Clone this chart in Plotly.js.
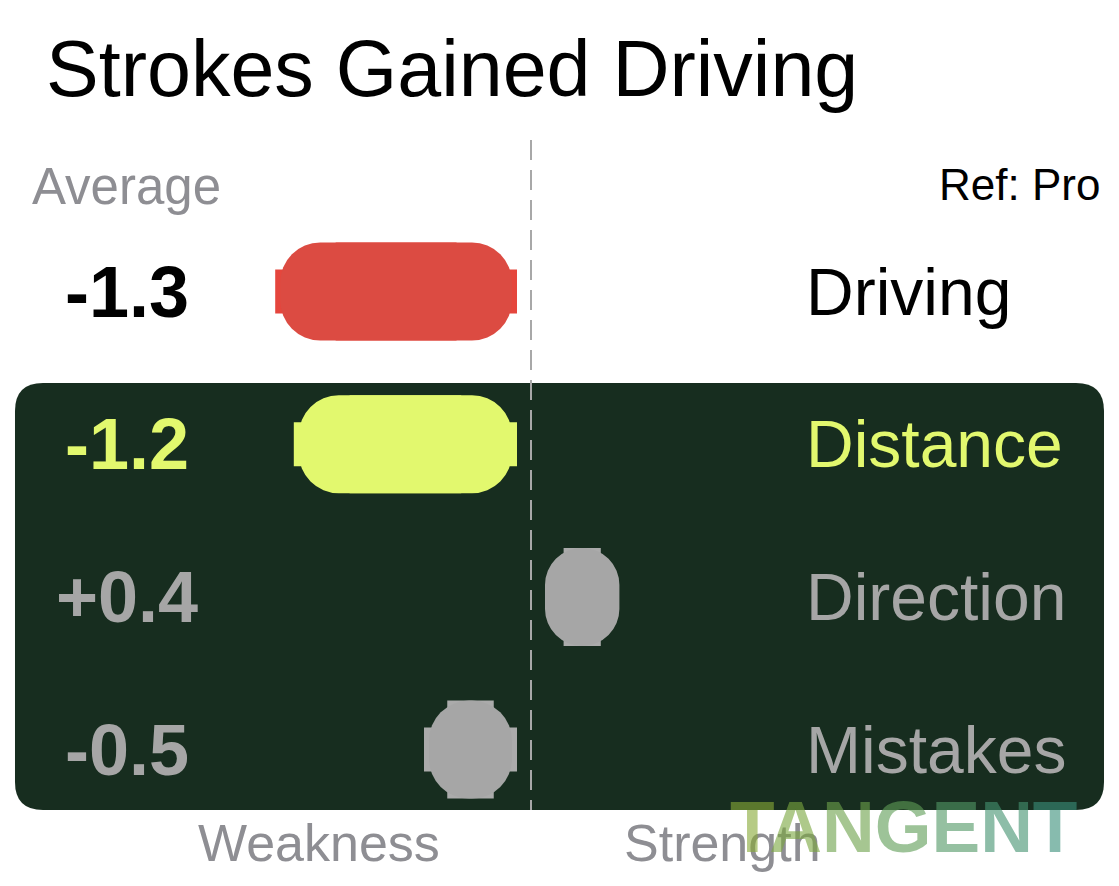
<!DOCTYPE html>
<html>
<head>
<meta charset="utf-8">
<script src="https://cdn.plot.ly/plotly-3.0.1.min.js"></script>
<style>
html,body{margin:0;padding:0;background:#fff;}
#chart{width:1119px;height:886px;}
</style>
</head>
<body>
<div id="chart"></div>
<script>
// ---- data ----
const categories = ['Driving', 'Distance', 'Direction', 'Mistakes'];
const values = [-1.3, -1.2, 0.4, -0.5];
const valueLabels = ['-1.3', '-1.2', '+0.4', '-0.5'];
const barColors = ['#DC4B42', '#E2F86E', '#A6A6A6', '#A6A6A6'];
const tabColors = ['#E5463D', '#E2F86E', '#ABABAB', '#ABABAB'];
const textColors = ['#000000', '#E2F86E', '#A6A6A6', '#A6A6A6'];
const title = 'Strokes Gained Driving';
const headerLeft = 'Average';
const headerRight = 'Ref: Pro';
const footLeft = 'Weakness';
const footRight = 'Strength';
const watermark = 'TANGENT';
const watermarkColors = ['rgba(135,170,55,0.78)', 'rgba(122,166,62,0.78)', 'rgba(108,161,74,0.78)',
  'rgba(94,156,86,0.78)', 'rgba(80,152,100,0.78)', 'rgba(68,147,112,0.78)', 'rgba(58,143,122,0.78)'];

// ---- geometry helpers (styling only) ----
const W = 1119, H = 886;
const pxPerUnitX = 186, zeroPx = 531;
const rowPx0 = 291.5, pxPerRow = 152.7;
const xRange = [-zeroPx / pxPerUnitX, (W - zeroPx) / pxPerUnitX];
const yRange = [(H - rowPx0) / pxPerRow, -rowPx0 / pxPerRow];
const gap = 14 / pxPerUnitX;
const pillPx = 98;
const pillW = pillPx / pxPerRow;
const tabW = 44 / pxPerRow;

const rows = categories.map((c, i) => i);
const starts = values.map(v => (v < 0 ? -gap : gap));
const lows = values.map((v, i) => Math.min(starts[i], starts[i] + v));
const lens = values.map(v => Math.abs(v));
const mids = values.map((v, i) => starts[i] + v / 2);
const longBar = lens.map(l => l * pxPerUnitX > 80);
const insets = longBar.map(b => (b ? 5 / pxPerUnitX : 0));
const hTabLens = lens.map((l, i) => (longBar[i] ? l : l * 0.5));

const common = {type: 'bar', orientation: 'h', y: rows, hoverinfo: 'skip', showlegend: false};
const traces = [
  // flat side tabs
  Object.assign({}, common, {base: mids.map((m, i) => m - hTabLens[i] / 2), x: hTabLens, width: tabW,
    marker: {color: tabColors, line: {width: 0}}}),
  // flat top/bottom tabs
  Object.assign({}, common, {base: lows.map((l, i) => l + lens[i] / 4), x: lens.map(l => l / 2), width: pillW,
    marker: {color: tabColors, line: {width: 0}}}),
  // rounded pill
  Object.assign({}, common, {base: lows.map((l, i) => l + insets[i]), x: lens.map((l, i) => l - 2 * insets[i]), width: pillW,
    marker: {color: barColors, cornerradius: 40, line: {width: 0}}})
];

const font = 'Liberation Sans, Arial, Helvetica, sans-serif';
const px = v => v / W;
const py = v => 1 - v / H;

const annotations = [];
categories.forEach((c, i) => {
  annotations.push({x: (127 - zeroPx) / pxPerUnitX, y: i, xref: 'x', yref: 'y', text: valueLabels[i],
    showarrow: false, xanchor: 'center', yanchor: 'middle',
    font: {family: font, size: 72, color: textColors[i], weight: 700}});
  annotations.push({x: (804 - zeroPx) / pxPerUnitX, y: i, xref: 'x', yref: 'y', text: c,
    showarrow: false, xanchor: 'left', yanchor: 'middle',
    font: {family: font, size: 66, color: textColors[i]}});
});
annotations.push({x: px(30), y: py(186), xref: 'paper', yref: 'paper', text: headerLeft, showarrow: false,
  xanchor: 'left', yanchor: 'middle', font: {family: font, size: 51, color: '#8E8E93'}});
annotations.push({x: px(1102), y: py(184), xref: 'paper', yref: 'paper', text: headerRight, showarrow: false,
  xanchor: 'right', yanchor: 'middle', font: {family: font, size: 44, color: '#000000'}});
annotations.push({x: px(196), y: py(843), xref: 'paper', yref: 'paper', text: footLeft, showarrow: false,
  xanchor: 'left', yanchor: 'middle', font: {family: font, size: 52, color: '#8E8E93'}});
annotations.push({x: px(622), y: py(843), xref: 'paper', yref: 'paper', text: footRight, showarrow: false,
  xanchor: 'left', yanchor: 'middle', font: {family: font, size: 52, color: '#8E8E93'}});
annotations.push({x: px(728), y: py(826), xref: 'paper', yref: 'paper',
  text: watermark.split('').map((ch, i) => '<span style="color:' + watermarkColors[i] + '">' + ch + '</span>').join(''),
  showarrow: false, xanchor: 'left', yanchor: 'middle',
  font: {family: font, size: 73, color: watermarkColors[3], weight: 900}});

// rounded dark panel (paper coords via pixel helpers)
const bx0 = 15, bx1 = 1104, by0 = 383, by1 = 810, r = 28;
const panelPath = [
  'M', px(bx0 + r), py(by0),
  'L', px(bx1 - r), py(by0),
  'Q', px(bx1), py(by0), px(bx1), py(by0 + r),
  'L', px(bx1), py(by1 - r),
  'Q', px(bx1), py(by1), px(bx1 - r), py(by1),
  'L', px(bx0 + r), py(by1),
  'Q', px(bx0), py(by1), px(bx0), py(by1 - r),
  'L', px(bx0), py(by0 + r),
  'Q', px(bx0), py(by0), px(bx0 + r), py(by0), 'Z'
].map(t => (typeof t === 'number' ? t.toFixed(5) : t)).join(' ');

const shapes = [
  {type: 'path', xref: 'paper', yref: 'paper', path: panelPath, fillcolor: '#172D1F', line: {width: 0}, layer: 'below'},
  {type: 'line', xref: 'x', yref: 'paper', x0: 0, x1: 0, y0: py(140), y1: py(810),
    line: {color: '#A8A8A8', width: 2, dash: '20px,10px'}, layer: 'below'}
];

const layout = {
  width: W, height: H,
  margin: {l: 0, r: 0, t: 0, b: 0, pad: 0},
  paper_bgcolor: '#ffffff', plot_bgcolor: 'rgba(0,0,0,0)',
  barmode: 'overlay',
  title: {text: title, font: {family: font, size: 79, color: '#000000'}, x: px(46), xanchor: 'left',
    xref: 'container', y: py(68), yanchor: 'middle', yref: 'container'},
  xaxis: {range: xRange, visible: false, fixedrange: true},
  yaxis: {range: yRange, visible: false, fixedrange: true},
  showlegend: false,
  hovermode: false,
  shapes: shapes,
  annotations: annotations
};

Plotly.newPlot('chart', traces, layout, {displayModeBar: false, staticPlot: true});
</script>
</body>
</html>
